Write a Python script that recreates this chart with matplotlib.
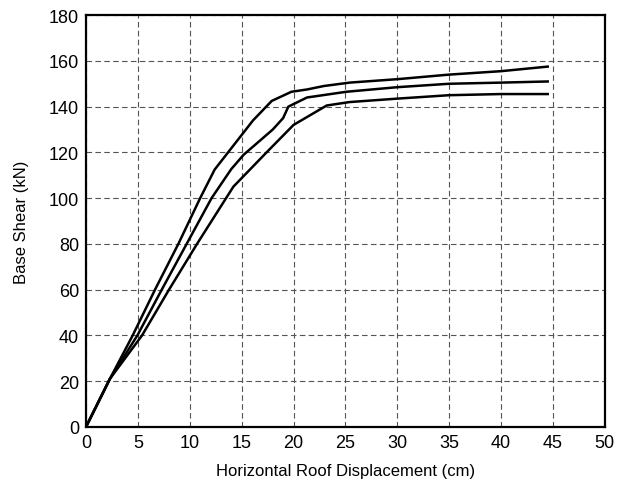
import matplotlib.pyplot as plt
import numpy as np

plt.rcParams['font.family'] = ['Liberation Sans', 'DejaVu Sans']

# pushover curves
x_top = [0, 2.3, 4.5, 6.65, 8.9, 11.0, 12.4, 16.1, 17.9, 19.8, 21.3, 22.9, 25.4, 30, 35, 40, 44.5]
y_top = [0, 21, 40, 60, 80, 100, 112.5, 134, 142.5, 146.5, 147.5, 149, 150.5, 152, 154, 155.5, 157.5]

x_mid = [0, 2.3, 4.95, 7.3, 9.7, 12.1, 14.0, 15.2, 18, 19, 19.5, 21.3, 25.1, 30, 35, 40, 44.5]
y_mid = [0, 21, 40, 60, 80, 100, 112.7, 119, 130, 135, 140, 144, 146.5, 148.5, 150, 150.5, 151]

x_bot = [0, 2.3, 5.4, 8.0, 10.7, 13.5, 14.2, 17.4, 20, 23.2, 25.4, 30, 35, 40, 44.5]
y_bot = [0, 21, 40, 60, 80, 100, 105, 120, 132, 140.5, 142, 143.5, 145, 145.5, 145.5]

fig = plt.figure(figsize=(6.28, 4.89), dpi=100)
ax = fig.add_axes([0.137, 0.125, 0.826, 0.842])

for xs, ys in [(x_top, y_top), (x_mid, y_mid), (x_bot, y_bot)]:
    ax.plot(xs, ys, color='black', linewidth=1.8)

ax.set_xlim(0, 50)
ax.set_ylim(0, 180)
ax.set_xticks(np.arange(0, 51, 5))
ax.set_yticks(np.arange(0, 181, 20))
ax.grid(True, linestyle=(0, (5, 3)), color='#555555', linewidth=0.8)
ax.set_axisbelow(True)

for s in ax.spines.values():
    s.set_linewidth(1.6)
ax.tick_params(labelsize=13, length=0, pad=5)

ax.set_xlabel('Horizontal Roof Displacement (cm)', fontsize=12, labelpad=9)
ax.set_ylabel('Base Shear (kN)', fontsize=12, labelpad=14)

fig.savefig('out.png', dpi=100)
